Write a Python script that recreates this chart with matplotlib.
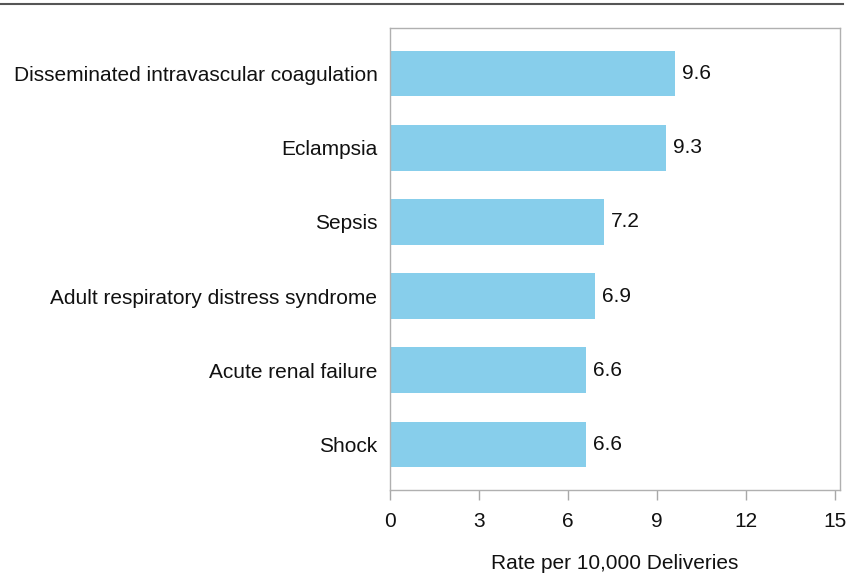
import matplotlib
matplotlib.use("Agg")
import matplotlib.pyplot as plt
from matplotlib.lines import Line2D

categories = ["Disseminated intravascular coagulation", "Eclampsia", "Sepsis",
              "Adult respiratory distress syndrome", "Acute renal failure", "Shock"]
values = [9.6, 9.3, 7.2, 6.9, 6.6, 6.6]
xticks = [0, 3, 6, 9, 12, 15]
xlabel = "Rate per 10,000 Deliveries"

plt.rcParams['font.family'] = ['Liberation Sans', 'DejaVu Sans']

W, H = 849, 576
FS = 15
fig = plt.figure(figsize=(W/100, H/100), dpi=100)
ax = fig.add_axes([390/W, 1 - 490/H, (840-390)/W, (490-28)/H])

y = list(range(len(categories)))
ax.barh(y, values, height=0.61, color='#87CEEB', edgecolor='none')
for yi, v in zip(y, values):
    ax.text(v + 0.25, yi, f"{v:.1f}", va='center', ha='left', fontsize=FS, color='#111111')

ax.set_ylim(len(categories) - 1 + 0.62, -0.62)
ax.set_xlim(0, 15.17)
ax.set_yticks(y)
ax.set_yticklabels(categories, fontsize=FS, color='#111111')
ax.set_xticks(xticks)
ax.set_xticklabels([str(t) for t in xticks], fontsize=FS, color='#111111')
ax.tick_params(axis='y', length=0, pad=9)
ax.tick_params(axis='x', length=7.5, width=1, color='#a8a8a8', pad=8)
for s in ax.spines.values():
    s.set_color('#b0b0b0')
    s.set_linewidth(1)
ax.set_xlabel(xlabel, fontsize=FS, color='#111111', labelpad=17)

fig.add_artist(Line2D([0/W, 843/W], [1 - 4/H, 1 - 4/H], color='#555555', linewidth=1.5,
                      transform=fig.transFigure))

fig.savefig("out.png", dpi=100)
